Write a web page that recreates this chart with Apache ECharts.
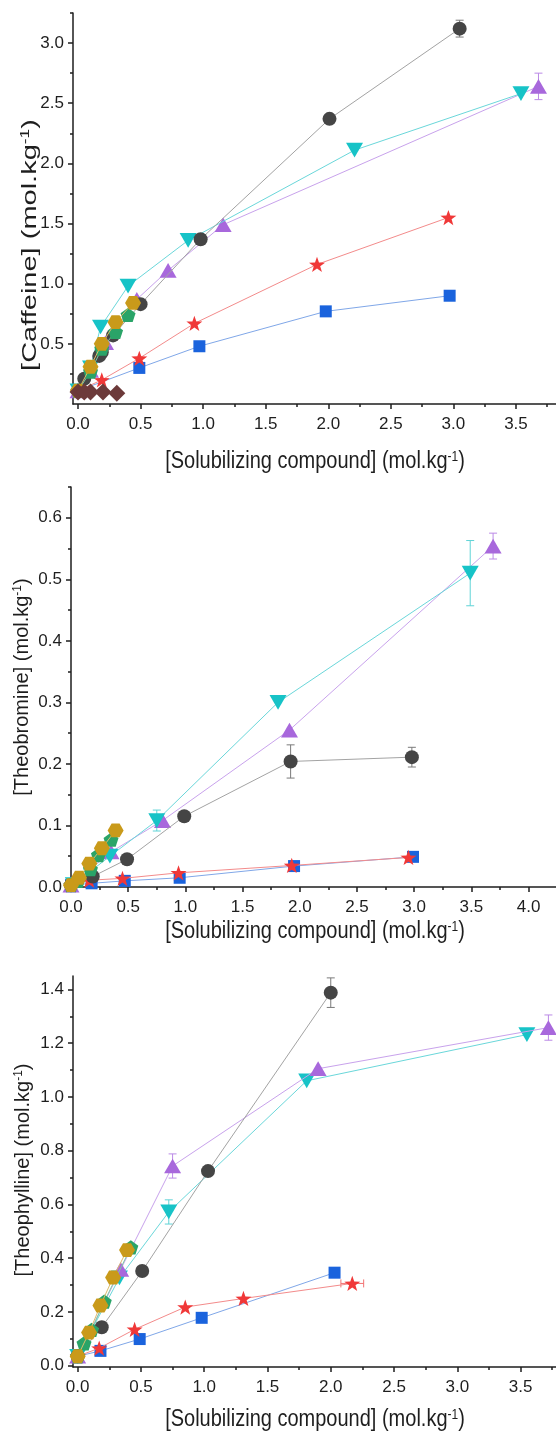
<!DOCTYPE html>
<html>
<head>
<meta charset="utf-8">
<script src="https://cdn.jsdelivr.net/npm/echarts@6/dist/echarts.min.js"></script>
<style>
  html, body { margin: 0; padding: 0; background: #ffffff; }
  #chart { width: 556px; height: 1436px; }
</style>
</head>
<body>
<div id="chart"></div>
<script>
// ---- Caffeine solubility vs. solubilizing compound ----
const caffeineGray   = [[0.0,0.11],[0.05,0.21],[0.17,0.40],[0.19,0.43],[0.28,0.57],[0.50,0.83],[0.98,1.37],[2.01,2.37],[3.05,3.12]];
const caffeineCyan   = [[0.0,0.11],[0.10,0.30],[0.18,0.64],[0.40,0.98],[0.88,1.36],[2.21,2.11],[3.54,2.58]];
const caffeinePurple = [[0.0,0.11],[0.10,0.28],[0.22,0.51],[0.47,0.87],[0.72,1.11],[1.16,1.49],[3.68,2.64]];
const caffeineRed    = [[0.0,0.11],[0.19,0.20],[0.49,0.38],[0.93,0.67],[1.91,1.16],[2.96,1.55]];
const caffeineBlue   = [[0.0,0.11],[0.49,0.30],[0.97,0.48],[1.98,0.77],[2.97,0.90]];
const caffeineGreen  = [[0.0,0.11],[0.10,0.27],[0.19,0.46],[0.30,0.60],[0.40,0.74]];
const caffeineGold   = [[0.0,0.11],[0.10,0.31],[0.19,0.50],[0.30,0.68],[0.44,0.84]];
const caffeineBrown  = [[0.0,0.10],[0.05,0.10],[0.10,0.10],[0.20,0.10],[0.31,0.09]];
// error bars: [x, y, xError, yError]
const caffeineGrayErr   = [[3.05,3.12,0,0.07]];
const caffeinePurpleErr = [[3.68,2.64,0,0.11]];

// ---- Theobromine ----
const theobromineGray   = [[0.0,0.003],[0.19,0.017],[0.49,0.045],[0.99,0.115],[1.92,0.204],[2.98,0.211]];
const theobromineCyan   = [[0.02,0.004],[0.34,0.050],[0.75,0.108],[1.81,0.300],[3.49,0.510]];
const theobrominePurple = [[0.0,0.003],[0.35,0.057],[0.80,0.108],[1.91,0.255],[3.69,0.554]];
const theobromineRed    = [[0.0,0.003],[0.16,0.011],[0.45,0.014],[0.94,0.023],[1.93,0.035],[2.95,0.048]];
const theobromineBlue   = [[0.0,0.003],[0.18,0.006],[0.47,0.010],[0.95,0.015],[1.95,0.034],[2.99,0.049]];
const theobromineGreen  = [[0.0,0.003],[0.06,0.010],[0.17,0.029],[0.24,0.052],[0.35,0.077]];
const theobromineGold   = [[0.0,0.003],[0.07,0.015],[0.16,0.038],[0.27,0.063],[0.39,0.092]];
const theobromineGrayErr   = [[1.92,0.204,0,0.027],[2.98,0.211,0,0.016]];
const theobromineCyanErr   = [[0.75,0.108,0,0.017],[3.49,0.510,0,0.053]];
const theobrominePurpleErr = [[3.69,0.554,0,0.021]];

// ---- Theophylline ----
const theophyllineGray   = [[0.0,0.035],[0.19,0.143],[0.51,0.352],[1.03,0.724],[2.00,1.388]];
const theophyllinePurple = [[0.0,0.035],[0.34,0.358],[0.75,0.743],[1.90,1.105],[3.72,1.258]];
const theophyllineCyan   = [[0.0,0.035],[0.33,0.327],[0.72,0.572],[1.81,1.060],[3.55,1.232]];
const theophyllineRed    = [[0.0,0.035],[0.17,0.065],[0.45,0.135],[0.85,0.218],[1.31,0.250],[2.17,0.306]];
const theophyllineBlue   = [[0.0,0.035],[0.18,0.055],[0.49,0.099],[0.98,0.178],[2.03,0.346]];
const theophyllineGreen  = [[0.0,0.035],[0.05,0.083],[0.11,0.133],[0.21,0.238],[0.42,0.440]];
const theophyllineGold   = [[0.0,0.035],[0.09,0.123],[0.18,0.224],[0.28,0.328],[0.39,0.430]];
const theophyllineGrayErr   = [[2.00,1.388,0,0.055]];
const theophyllinePurpleErr = [[0.75,0.743,0,0.045],[3.72,1.258,0,0.047]];
const theophyllineCyanErr   = [[0.72,0.572,0,0.045]];
const theophyllineRedErr    = [[2.17,0.306,0.09,0]];

// ---- tick values ----
const caffeineXTicks = [0,0.5,1,1.5,2,2.5,3,3.5];
const caffeineXMinor = [0.25,0.75,1.25,1.75,2.25,2.75,3.25,3.75];
const caffeineYTicks = [0.5,1,1.5,2,2.5,3];
const caffeineYMinor = [0.25,0.75,1.25,1.75,2.25,2.75,3.25];

const theobromineXTicks = [0,0.5,1,1.5,2,2.5,3,3.5,4];
const theobromineXMinor = [0.25,0.75,1.25,1.75,2.25,2.75,3.25,3.75];
const theobromineYTicks = [0,0.1,0.2,0.3,0.4,0.5,0.6];
const theobromineYMinor = [0.05,0.15,0.25,0.35,0.45,0.55,0.65];

const theophyllineXTicks = [0,0.5,1,1.5,2,2.5,3,3.5];
const theophyllineXMinor = [0.25,0.75,1.25,1.75,2.25,2.75,3.25,3.75];
const theophyllineYTicks = [0,0.2,0.4,0.6,0.8,1.0,1.2,1.4];
const theophyllineYMinor = [0.1,0.3,0.5,0.7,0.9,1.1,1.3];

// ---- axis titles ----
const xTitle = '[Solubilizing compound] (mol.kg{sup|-1})';
const yTitles = ['[Caffeine] (mol.kg{sup|-1})', '[Theobromine] (mol.kg{sup|-1})', '[Theophylline] (mol.kg{sup|-1})'];

// ---- styling ----
const FONT = '"Liberation Sans", Arial, sans-serif';
const INK = '#1e1e1e';
const SYM = {
  circle: 'circle',
  square: 'rect',
  up: 'path://M50,0 L100,86.6 L0,86.6 Z',
  down: 'path://M0,0 L100,0 L50,86.6 Z',
  star: 'path://M50,0 L61.76,33.82 L97.55,34.55 L69.02,56.18 L79.39,90.45 L50,70 L20.61,90.45 L30.98,56.18 L2.45,34.55 L38.24,33.82 Z',
  pentagon: 'path://M50,0 L97.55,34.55 L79.39,90.45 L20.61,90.45 L2.45,34.55 Z',
  hexagon: 'path://M0,50 L25,6.7 L75,6.7 L100,50 L75,93.3 L25,93.3 Z',
  diamond: 'diamond'
};
const STYLE = {
  gray:   { fill: '#454545', line: '#a3a3a3', err: '#7a7a7a', sym: 'circle',   size: 14 },
  cyan:   { fill: '#17c3c7', line: '#6ad7da', err: '#5fd3d6', sym: 'down',     size: 17 },
  purple: { fill: '#a868dc', line: '#c8a2ec', err: '#bb8ae6', sym: 'up',       size: 17 },
  red:    { fill: '#f03838', line: '#f38b8b', err: '#f27272', sym: 'star',     size: 16 },
  blue:   { fill: '#1a63dd', line: '#80a7e8', err: '#80a7e8', sym: 'square',   size: 12 },
  green:  { fill: '#2aa468', line: '#7ccaa4', err: '#7ccaa4', sym: 'pentagon', size: 15 },
  gold:   { fill: '#c99a1a', line: '#dcbd6c', err: '#dcbd6c', sym: 'hexagon',  size: 16 },
  brown:  { fill: '#6c3a3a', line: '#a07a7a', err: '#a07a7a', sym: 'diamond',  size: 17 }
};

const panels = [
  { grid: { left: 73, top: 13, right: 0, height: 391 }, x: [-0.04, 3.82], y: [0, 3.25],
    xTicks: caffeineXTicks, xMinor: caffeineXMinor, yTicks: caffeineYTicks, yMinor: caffeineYMinor,
    xTitlePos: [315, 462], yTitlePos: [30, 245], yTitleStretch: 1.45, yTitle: yTitles[0],
    series: [['blue', caffeineBlue], ['red', caffeineRed], ['purple', caffeinePurple], ['cyan', caffeineCyan],
             ['gray', caffeineGray], ['green', caffeineGreen], ['gold', caffeineGold], ['brown', caffeineBrown]],
    errors: [['gray', caffeineGrayErr], ['purple', caffeinePurpleErr]] },
  { grid: { left: 71, top: 487, right: 0, height: 400 }, x: [0, 4.24], y: [0, 0.65],
    xTicks: theobromineXTicks, xMinor: theobromineXMinor, yTicks: theobromineYTicks, yMinor: theobromineYMinor,
    xTitlePos: [315, 932], yTitlePos: [22, 687], yTitleStretch: 1.0, yTitle: yTitles[1],
    series: [['blue', theobromineBlue], ['red', theobromineRed], ['purple', theobrominePurple], ['cyan', theobromineCyan],
             ['gray', theobromineGray], ['green', theobromineGreen], ['gold', theobromineGold]],
    errors: [['gray', theobromineGrayErr], ['cyan', theobromineCyanErr], ['purple', theobrominePurpleErr]] },
  { grid: { left: 73, top: 976, right: 0, height: 391 }, x: [-0.037, 3.78], y: [-0.005, 1.45],
    xTicks: theophyllineXTicks, xMinor: theophyllineXMinor, yTicks: theophyllineYTicks, yMinor: theophyllineYMinor,
    xTitlePos: [315, 1420], yTitlePos: [23, 1170], yTitleStretch: 1.0, yTitle: yTitles[2],
    series: [['blue', theophyllineBlue], ['red', theophyllineRed], ['cyan', theophyllineCyan], ['purple', theophyllinePurple],
             ['gray', theophyllineGray], ['green', theophyllineGreen], ['gold', theophyllineGold]],
    errors: [['gray', theophyllineGrayErr], ['purple', theophyllinePurpleErr], ['cyan', theophyllineCyanErr], ['red', theophyllineRedErr]] }
];

function titleText(text, pos, opts) {
  return Object.assign({
    type: 'text', x: pos[0], y: pos[1], silent: true,
    style: {
      text, fontFamily: FONT, fontSize: 20, fill: INK, align: 'center', verticalAlign: 'middle',
      rich: { sup: { fontFamily: FONT, fontSize: 12, fill: INK, verticalAlign: 'top', lineHeight: 14 } }
    }
  }, opts);
}

function majorAxis(dim, gridIndex, range, ticks) {
  return {
    type: 'value', gridIndex, min: range[0], max: range[1],
    position: dim === 'x' ? 'bottom' : 'left',
    axisLine: { show: true, onZero: false, lineStyle: { color: INK, width: 1.5 } },
    axisTick: { show: true, inside: false, length: 5, customValues: ticks, lineStyle: { color: INK, width: 1.5 } },
    axisLabel: { show: true, customValues: ticks, formatter: v => v.toFixed(1),
                 fontFamily: FONT, fontSize: 17, color: INK, margin: dim === 'x' ? 12 : 9 },
    splitLine: { show: false }
  };
}
function minorAxis(dim, gridIndex, range, ticks) {
  return {
    type: 'value', gridIndex, min: range[0], max: range[1],
    position: dim === 'x' ? 'bottom' : 'left',
    axisLine: { show: false, onZero: false },
    axisTick: { show: true, inside: false, length: 3, customValues: ticks, lineStyle: { color: INK, width: 1.5 } },
    axisLabel: { show: false },
    splitLine: { show: false }
  };
}

function renderError(params, api) {
  const x = api.value(0), y = api.value(1), dx = api.value(2), dy = api.value(3);
  const style = { stroke: api.visual('color'), lineWidth: 1 };
  const cap = 4;
  const kids = [];
  if (dy > 0) {
    const a = api.coord([x, y - dy]), b = api.coord([x, y + dy]);
    kids.push({ type: 'line', shape: { x1: a[0], y1: a[1], x2: b[0], y2: b[1] }, style });
    kids.push({ type: 'line', shape: { x1: a[0] - cap, y1: a[1], x2: a[0] + cap, y2: a[1] }, style });
    kids.push({ type: 'line', shape: { x1: b[0] - cap, y1: b[1], x2: b[0] + cap, y2: b[1] }, style });
  }
  if (dx > 0) {
    const a = api.coord([x - dx, y]), b = api.coord([x + dx, y]);
    kids.push({ type: 'line', shape: { x1: a[0], y1: a[1], x2: b[0], y2: b[1] }, style });
    kids.push({ type: 'line', shape: { x1: a[0], y1: a[1] - cap, x2: a[0], y2: a[1] + cap }, style });
    kids.push({ type: 'line', shape: { x1: b[0], y1: b[1] - cap, x2: b[0], y2: b[1] + cap }, style });
  }
  return { type: 'group', children: kids };
}

const grids = [], xAxes = [], yAxes = [], series = [], titles = [];
panels.forEach((p, i) => {
  grids.push(p.grid);
  xAxes.push(majorAxis('x', i, p.x, p.xTicks));
  xAxes.push(minorAxis('x', i, p.x, p.xMinor));
  yAxes.push(majorAxis('y', i, p.y, p.yTicks));
  yAxes.push(minorAxis('y', i, p.y, p.yMinor));
  // axis titles: the horizontal one slightly tall, the vertical one reading bottom-to-top
  titles.push(titleText(xTitle, p.xTitlePos, { scaleY: 1.15 }));
  titles.push(titleText(p.yTitle, p.yTitlePos, { rotation: Math.PI / 2, scaleX: p.yTitleStretch }));
  const xi = 2 * i, yi = 2 * i;
  p.errors.forEach(([key, data]) => {
    series.push({
      type: 'custom', xAxisIndex: xi, yAxisIndex: yi, data, renderItem: renderError,
      encode: { x: 0, y: 1 }, itemStyle: { color: STYLE[key].err }, z: 1, silent: true
    });
  });
  p.series.forEach(([key, data], k) => {
    const s = STYLE[key];
    series.push({
      type: 'line', xAxisIndex: xi, yAxisIndex: yi, data,
      symbol: SYM[s.sym], symbolSize: s.size, symbolKeepAspect: true, showAllSymbol: true,
      itemStyle: { color: s.fill, opacity: 1 },
      lineStyle: { color: s.line, width: 1 },
      z: 2 + k, animation: false, silent: true
    });
  });
});

const chart = echarts.init(document.getElementById('chart'), null, { renderer: 'canvas' });
chart.setOption({
  animation: false,
  backgroundColor: '#ffffff',
  grid: grids,
  xAxis: xAxes,
  yAxis: yAxes,
  graphic: titles,
  series
});
</script>
</body>
</html>
